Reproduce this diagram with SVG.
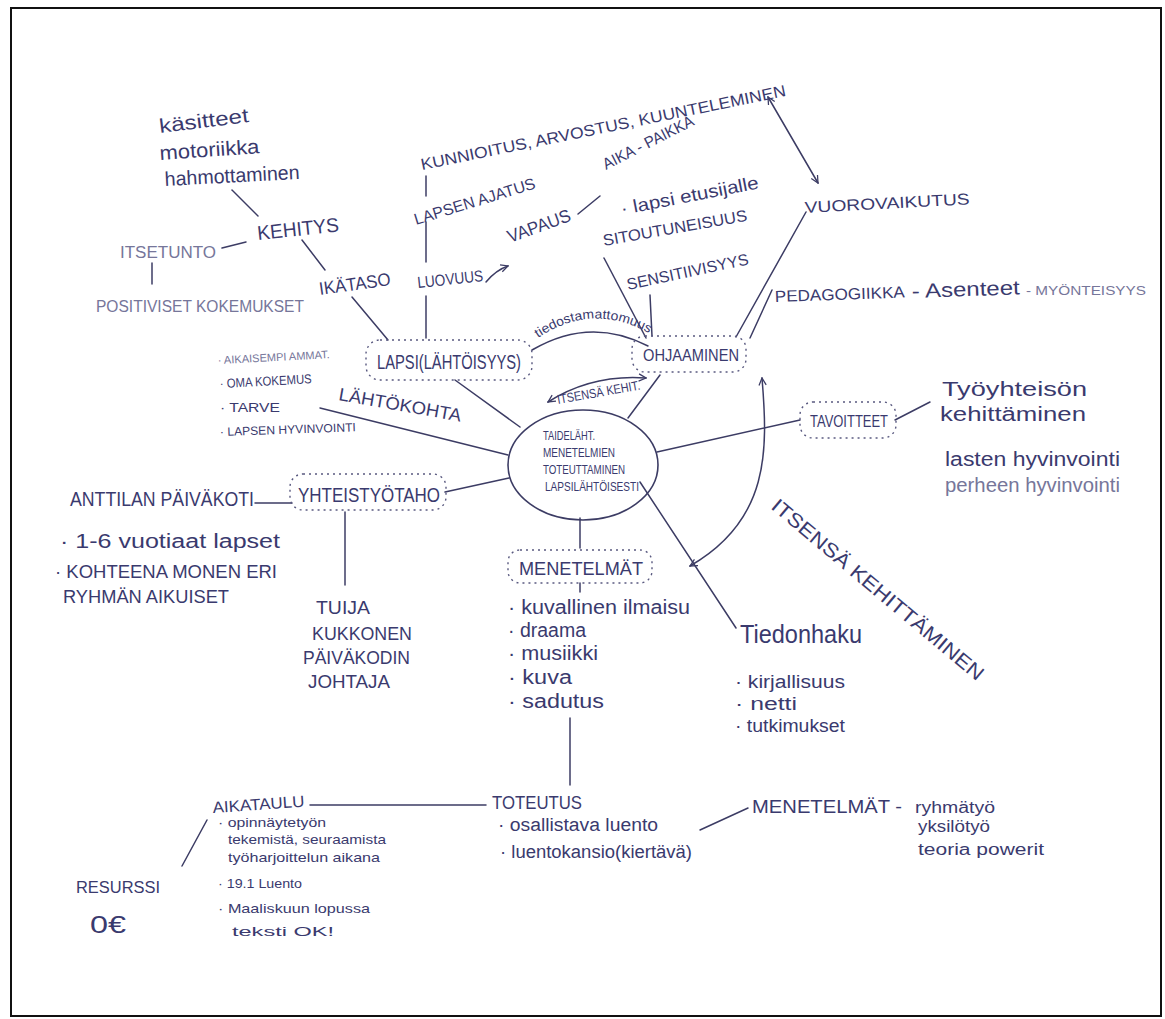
<svg xmlns="http://www.w3.org/2000/svg" width="1165" height="1019" viewBox="0 0 1165 1019">
<defs>
<marker id="ah" viewBox="0 0 10 10" refX="9" refY="5" markerWidth="9" markerHeight="9" orient="auto-start-reverse" markerUnits="userSpaceOnUse">
<path d="M1,1 L9,5 L1,9" fill="none" stroke="#3c3c64" stroke-width="1.4"/>
</marker>
<path id="tp1" d="M538,338 Q594,300 654,336"/>
</defs>
<style>
text{font-family:"Liberation Sans",Arial,sans-serif;fill:#3a3a6e;font-size:16px}
.g{fill:#76769a}
.s{font-size:13px}
.m{font-size:18px}
.l{font-size:20px}
.ln{stroke:#3c3c64;stroke-width:1.5;fill:none;stroke-linecap:round}
.box{fill:none;stroke:#5a5a80;stroke-width:1.4;stroke-dasharray:2 4}
</style>
<rect x="11" y="8" width="1150" height="1008" fill="#ffffff" stroke="#111111" stroke-width="2"/>

<g id="connectors">
<path class="ln" d="M232,190 L258,216"/>
<path class="ln" d="M222,248 L246,242"/>
<path class="ln" d="M152,263 L152,284"/>
<path class="ln" d="M302,240 L325,270"/>
<path class="ln" d="M352,297 L388,340"/>
<path class="ln" d="M426,176 L426,196"/>
<path class="ln" d="M426,222 L426,262"/>
<path class="ln" d="M426,296 L426,338"/>
<path class="ln" d="M486,282 Q496,270 508,266" marker-end="url(#ah)"/>
<path class="ln" d="M578,214 L600,196"/>
<path class="ln" d="M768,97 L818,183" marker-start="url(#ah)" marker-end="url(#ah)"/>
<path class="ln" d="M604,258 L646,338"/>
<path class="ln" d="M650,295 L652,336"/>
<path class="ln" d="M806,212 L736,337"/>
<path class="ln" d="M772,290 L750,338"/>
<path class="ln" d="M532,350 Q590,316 648,346"/>
<path class="ln" d="M548,402 Q592,374 646,378" marker-start="url(#ah)" marker-end="url(#ah)"/>
<path class="ln" d="M455,380 L520,427"/>
<path class="ln" d="M660,375 L628,418"/>
<path class="ln" d="M320,408 L508,455"/>
<path class="ln" d="M657,452 L800,420"/>
<path class="ln" d="M895,420 L930,402"/>
<path class="ln" d="M509,478 L445,492"/>
<path class="ln" d="M255,503 L292,503"/>
<path class="ln" d="M345,512 L345,585"/>
<path class="ln" d="M580,518 L580,548"/>
<path class="ln" d="M580,583 L580,592"/>
<path class="ln" d="M640,482 L736,628"/>
<path class="ln" d="M762,378 C768,450 770,520 690,566" marker-start="url(#ah)" marker-end="url(#ah)"/>
<path class="ln" d="M570,718 L570,785"/>
<path class="ln" d="M310,805 L486,805"/>
<path class="ln" d="M182,866 L207,820"/>
<path class="ln" d="M700,830 L748,808"/>
</g>

<g id="kehitys-sub">
<text class="l" x="160" y="133" transform="rotate(-7 160 133)" textLength="90" lengthAdjust="spacingAndGlyphs">käsitteet</text>
<text class="l" x="160" y="160" transform="rotate(-4 160 160)" textLength="100" lengthAdjust="spacingAndGlyphs">motoriikka</text>
<text class="l" x="165" y="186" transform="rotate(-3 165 186)" textLength="135" lengthAdjust="spacingAndGlyphs">hahmottaminen</text>
</g>
<g id="kehitys"><text class="l" x="258" y="240" transform="rotate(-6 258 240)" textLength="82" lengthAdjust="spacingAndGlyphs">KEHITYS</text></g>
<g id="itsetunto"><text class="g" x="120" y="258" textLength="96" lengthAdjust="spacingAndGlyphs">ITSETUNTO</text></g>
<g id="positiiviset"><text class="g" x="96" y="312" textLength="208" lengthAdjust="spacingAndGlyphs">POSITIVISET KOKEMUKSET</text></g>
<g id="ikataso"><text class="m" x="320" y="295" transform="rotate(-8 320 295)" textLength="72" lengthAdjust="spacingAndGlyphs">IKÄTASO</text></g>

<g id="kunnioitus"><text x="422" y="170" transform="rotate(-11.5 422 170)" textLength="372" lengthAdjust="spacingAndGlyphs">KUNNIOITUS, ARVOSTUS, KUUNTELEMINEN</text></g>
<g id="lapsen-ajatus"><text x="416" y="225" transform="rotate(-17 416 225)" textLength="126" lengthAdjust="spacingAndGlyphs">LAPSEN AJATUS</text></g>
<g id="luovuus"><text x="418" y="288" transform="rotate(-6 418 288)" textLength="66" lengthAdjust="spacingAndGlyphs">LUOVUUS</text></g>
<g id="vapaus"><text class="m" x="510" y="243" transform="rotate(-20 510 243)" textLength="66" lengthAdjust="spacingAndGlyphs">VAPAUS</text></g>
<g id="aika-paikka"><text x="606" y="170" transform="rotate(-27 606 170)" textLength="100" lengthAdjust="spacingAndGlyphs">AIKA - PAIKKA</text></g>
<g id="lapsi-etusijalle"><text class="m" x="622" y="215" transform="rotate(-11 622 215)" textLength="140" lengthAdjust="spacingAndGlyphs">· lapsi etusijalle</text></g>
<g id="sitoutuneisuus"><text x="604" y="246" transform="rotate(-10 604 246)" textLength="146" lengthAdjust="spacingAndGlyphs">SITOUTUNEISUUS</text></g>
<g id="sensitiivisyys"><text x="628" y="290" transform="rotate(-12 628 290)" textLength="124" lengthAdjust="spacingAndGlyphs">SENSITIIVISYYS</text></g>
<g id="vuorovaikutus"><text x="805" y="213" transform="rotate(-3 805 213)" textLength="165" lengthAdjust="spacingAndGlyphs">VUOROVAIKUTUS</text></g>
<g id="pedagogiikka"><text x="775" y="302" transform="rotate(-2 775 302)" textLength="130" lengthAdjust="spacingAndGlyphs">PEDAGOGIIKKA</text></g>
<g id="asenteet"><text class="l" x="912" y="298" transform="rotate(-2 912 298)" textLength="108" lengthAdjust="spacingAndGlyphs">- Asenteet</text></g>
<g id="myonteisyys"><text class="g s" x="1026" y="295" textLength="120" lengthAdjust="spacingAndGlyphs">- MYÖNTEISYYS</text></g>

<g id="lapsi">
<rect class="box" x="366" y="340" width="166" height="40" rx="14"/>
<text class="l" x="377" y="369" textLength="144" lengthAdjust="spacingAndGlyphs">LAPSI(LÄHTÖISYYS)</text>
</g>
<g id="ohjaaminen">
<rect class="box" x="632" y="336" width="114" height="36" rx="13"/>
<text x="643" y="361" textLength="96" lengthAdjust="spacingAndGlyphs">OHJAAMINEN</text>
</g>
<g id="tiedostamattomuus"><text class="s"><textPath href="#tp1" textLength="118" lengthAdjust="spacingAndGlyphs">tiedostamattomuus</textPath></text></g>
<g id="itsensa-kehit"><text class="s" x="558" y="404" transform="rotate(-10 558 404)" textLength="84" lengthAdjust="spacingAndGlyphs">ITSENSÄ KEHIT.</text></g>

<g id="lahtokohta-list">
<text class="g" x="218" y="364" transform="rotate(-3 218 364)" style="font-size:11px" textLength="112" lengthAdjust="spacingAndGlyphs">· AIKAISEMPI AMMAT.</text>
<text class="s" x="220" y="388" transform="rotate(-3 220 388)" textLength="92" lengthAdjust="spacingAndGlyphs">· OMA KOKEMUS</text>
<text class="s" x="220" y="412" textLength="60" lengthAdjust="spacingAndGlyphs">· TARVE</text>
<text x="220" y="436" transform="rotate(-2 220 436)" style="font-size:12px" textLength="136" lengthAdjust="spacingAndGlyphs">· LAPSEN HYVINVOINTI</text>
</g>
<g id="lahtokohta"><text class="m" x="338" y="400" transform="rotate(10 338 400)" textLength="124" lengthAdjust="spacingAndGlyphs">LÄHTÖKOHTA</text></g>

<g id="keskus">
<ellipse cx="583" cy="465" rx="75" ry="55" fill="none" stroke="#3c3c64" stroke-width="1.6"/>
<text style="font-size:12px" x="543" y="440" textLength="52" lengthAdjust="spacingAndGlyphs">TAIDELÄHT.</text>
<text style="font-size:12px" x="543" y="457" textLength="72" lengthAdjust="spacingAndGlyphs">MENETELMIEN</text>
<text style="font-size:12px" x="543" y="474" textLength="82" lengthAdjust="spacingAndGlyphs">TOTEUTTAMINEN</text>
<text style="font-size:12px" x="545" y="491" textLength="94" lengthAdjust="spacingAndGlyphs">LAPSILÄHTÖISESTI</text>
</g>

<g id="tavoitteet">
<rect class="box" x="800" y="402" width="96" height="36" rx="13"/>
<text x="810" y="427" textLength="78" lengthAdjust="spacingAndGlyphs">TAVOITTEET</text>
</g>
<g id="tyoyhteison"><text class="l" x="942" y="396" textLength="145" lengthAdjust="spacingAndGlyphs">Työyhteisön</text><text class="l" x="940" y="421" textLength="146" lengthAdjust="spacingAndGlyphs">kehittäminen</text></g>
<g id="lasten"><text class="l" x="945" y="466" textLength="175" lengthAdjust="spacingAndGlyphs">lasten hyvinvointi</text></g>
<g id="perheen"><text class="l g" x="945" y="492" textLength="175" lengthAdjust="spacingAndGlyphs">perheen hyvinvointi</text></g>

<g id="yhteistyotaho">
<rect class="box" x="290" y="474" width="156" height="36" rx="13"/>
<text class="l" x="298" y="502" textLength="142" lengthAdjust="spacingAndGlyphs">YHTEISTYÖTAHO</text>
</g>
<g id="anttilan"><text class="l" x="70" y="506" textLength="184" lengthAdjust="spacingAndGlyphs">ANTTILAN PÄIVÄKOTI</text></g>
<g id="anttilan-list">
<text class="l" x="60" y="548" textLength="220" lengthAdjust="spacingAndGlyphs">· 1-6 vuotiaat lapset</text>
<text class="m" x="55" y="578" textLength="222" lengthAdjust="spacingAndGlyphs">· KOHTEENA MONEN ERI</text>
<text class="m" x="63" y="603" textLength="166" lengthAdjust="spacingAndGlyphs">RYHMÄN AIKUISET</text>
</g>
<g id="tuija">
<text class="m" x="316" y="614" textLength="54" lengthAdjust="spacingAndGlyphs">TUIJA</text>
<text class="m" x="312" y="640" textLength="100" lengthAdjust="spacingAndGlyphs">KUKKONEN</text>
<text class="m" x="303" y="664" textLength="107" lengthAdjust="spacingAndGlyphs">PÄIVÄKODIN</text>
<text class="m" x="308" y="688" textLength="82" lengthAdjust="spacingAndGlyphs">JOHTAJA</text>
</g>

<g id="menetelmat">
<rect class="box" x="508" y="550" width="144" height="33" rx="12"/>
<text class="m" x="519" y="575" textLength="124" lengthAdjust="spacingAndGlyphs">MENETELMÄT</text>
</g>
<g id="menetelmat-list">
<text class="l" x="508" y="614" textLength="182" lengthAdjust="spacingAndGlyphs">· kuvallinen ilmaisu</text>
<text class="l" x="508" y="637" textLength="78" lengthAdjust="spacingAndGlyphs">· draama</text>
<text class="l" x="508" y="660" textLength="90" lengthAdjust="spacingAndGlyphs">· musiikki</text>
<text class="l" x="508" y="684" textLength="64" lengthAdjust="spacingAndGlyphs">· kuva</text>
<text class="l" x="508" y="708" textLength="96" lengthAdjust="spacingAndGlyphs">· sadutus</text>
</g>
<g id="tiedonhaku"><text x="740" y="643" style="font-size:25px" textLength="122" lengthAdjust="spacingAndGlyphs">Tiedonhaku</text></g>
<g id="tiedonhaku-list">
<text class="m" x="735" y="688" textLength="110" lengthAdjust="spacingAndGlyphs">· kirjallisuus</text>
<text class="m" x="735" y="710" textLength="62" lengthAdjust="spacingAndGlyphs">· netti</text>
<text class="m" x="735" y="732" textLength="110" lengthAdjust="spacingAndGlyphs">· tutkimukset</text>
</g>
<g id="itsensa-kehittaminen"><text class="l" x="770" y="508" transform="rotate(40 770 508)" textLength="270" lengthAdjust="spacingAndGlyphs">ITSENSÄ KEHITTÄMINEN</text></g>

<g id="toteutus"><text class="m" x="492" y="809" textLength="90" lengthAdjust="spacingAndGlyphs">TOTEUTUS</text></g>
<g id="aikataulu"><text x="213" y="813" transform="rotate(-4 213 813)" textLength="92" lengthAdjust="spacingAndGlyphs">AIKATAULU</text></g>
<g id="aikataulu-list">
<text class="s" x="218" y="827" textLength="108" lengthAdjust="spacingAndGlyphs">· opinnäytetyön</text>
<text class="s" x="228" y="844" textLength="158" lengthAdjust="spacingAndGlyphs">tekemistä, seuraamista</text>
<text class="s" x="228" y="862" textLength="152" lengthAdjust="spacingAndGlyphs">työharjoittelun aikana</text>
<text class="s" x="218" y="888" textLength="84" lengthAdjust="spacingAndGlyphs">· 19.1 Luento</text>
<text class="s" x="218" y="913" textLength="152" lengthAdjust="spacingAndGlyphs">· Maaliskuun lopussa</text>
<text class="s" x="232" y="936" textLength="102" lengthAdjust="spacingAndGlyphs">teksti OK!</text>
</g>
<g id="resurssi"><text x="76" y="893" textLength="84" lengthAdjust="spacingAndGlyphs">RESURSSI</text><text x="90" y="933" style="font-size:24px" textLength="36" lengthAdjust="spacingAndGlyphs">0€</text></g>
<g id="toteutus-list">
<text class="m" x="498" y="831" textLength="160" lengthAdjust="spacingAndGlyphs">· osallistava luento</text>
<text class="m" x="500" y="858" textLength="192" lengthAdjust="spacingAndGlyphs">· luentokansio(kiertävä)</text>
</g>
<g id="menetelmat2"><text class="m" x="752" y="813" textLength="150" lengthAdjust="spacingAndGlyphs">MENETELMÄT -</text></g>
<g id="menetelmat2-list">
<text x="915" y="813" textLength="80" lengthAdjust="spacingAndGlyphs">ryhmätyö</text>
<text x="918" y="832" textLength="72" lengthAdjust="spacingAndGlyphs">yksilötyö</text>
<text x="918" y="855" textLength="126" lengthAdjust="spacingAndGlyphs">teoria powerit</text>
</g>
</svg>
